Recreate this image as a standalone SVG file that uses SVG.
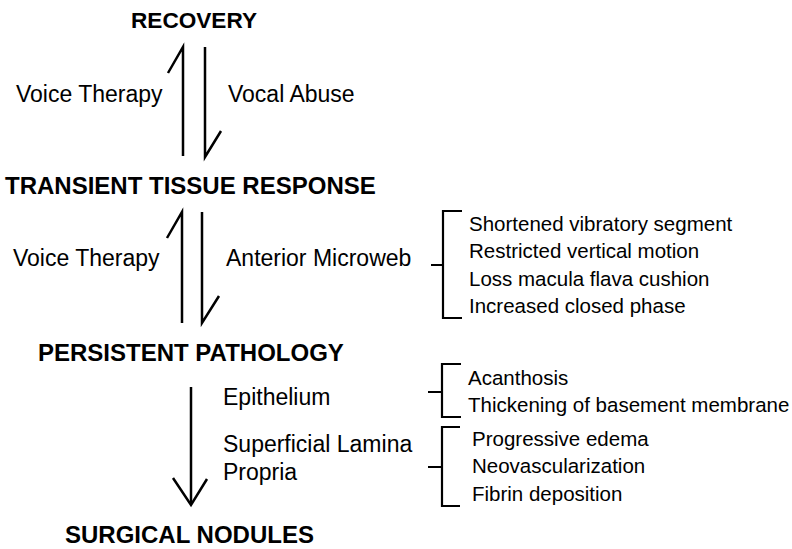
<svg xmlns="http://www.w3.org/2000/svg" width="792" height="549" viewBox="0 0 792 549">
<style>
  text { font-family: "Liberation Sans", Arial, sans-serif; fill: #000; }
  .h { font-weight: bold; font-size: 24px; }
  .h2 { font-weight: bold; font-size: 22px; }
  .lbl { font-size: 23px; }
  .item { font-size: 20.5px; }
  .ln { fill: none; stroke: #000; stroke-width: 2.5; stroke-linecap: butt; stroke-linejoin: miter; }
  .br { fill: none; stroke: #000; stroke-width: 2.2; }
</style>
<rect width="792" height="549" fill="#fff"/>

<g id="recovery"><text class="h2" x="131" y="28" textLength="126" lengthAdjust="spacingAndGlyphs">RECOVERY</text></g>
<g id="transient"><text class="h" x="5" y="194">TRANSIENT TISSUE RESPONSE</text></g>
<g id="persistent"><text class="h" x="38" y="361">PERSISTENT PATHOLOGY</text></g>
<g id="surgical"><text class="h" x="65" y="543">SURGICAL NODULES</text></g>

<g id="anterior-findings">
  <text class="item" x="469" y="231">Shortened vibratory segment</text>
  <text class="item" x="469" y="258">Restricted vertical motion</text>
  <text class="item" x="469" y="286">Loss macula flava cushion</text>
  <text class="item" x="469" y="313">Increased closed phase</text>
</g>
<g id="epithelium-findings">
  <text class="item" x="468" y="385">Acanthosis</text>
  <text class="item" x="468" y="412">Thickening of basement membrane</text>
</g>
<g id="lamina-findings">
  <text class="item" x="472" y="446">Progressive edema</text>
  <text class="item" x="472" y="473">Neovascularization</text>
  <text class="item" x="472" y="501">Fibrin deposition</text>
</g>

<g id="connectors">
  <!-- Recovery <-> Transient -->
  <path class="ln" d="M183,156 L183,47 L168,73"/>
  <path class="ln" d="M205,47 L205,157 L221,131"/>
  <text class="lbl" x="16" y="102">Voice Therapy</text>
  <text class="lbl" x="228" y="102">Vocal Abuse</text>
  <!-- Transient <-> Persistent -->
  <path class="ln" d="M182,323 L182,212 L167,238"/>
  <path class="ln" d="M202,212 L202,323 L219,296"/>
  <text class="lbl" x="13" y="266">Voice Therapy</text>
  <text class="lbl" x="226" y="266">Anterior Microweb</text>
  <!-- Persistent -> Surgical -->
  <path class="ln" d="M191,387 L191,504"/>
  <path class="ln" d="M173,478 L191,505 L207,479"/>
  <text class="lbl" x="223" y="405">Epithelium</text>
  <text class="lbl" x="223" y="452">Superficial Lamina</text>
  <text class="lbl" x="223" y="480">Propria</text>
  <!-- Brackets -->
  <path class="br" d="M431,265 L443,265 M462,211 L443,211 L443,318 L462,318"/>
  <path class="br" d="M428,392 L442,392 M461,364 L442,364 L442,417 L461,417"/>
  <path class="br" d="M428,467 L442,467 M460,427 L442,427 L442,506 L460,506"/>
</g>
</svg>
